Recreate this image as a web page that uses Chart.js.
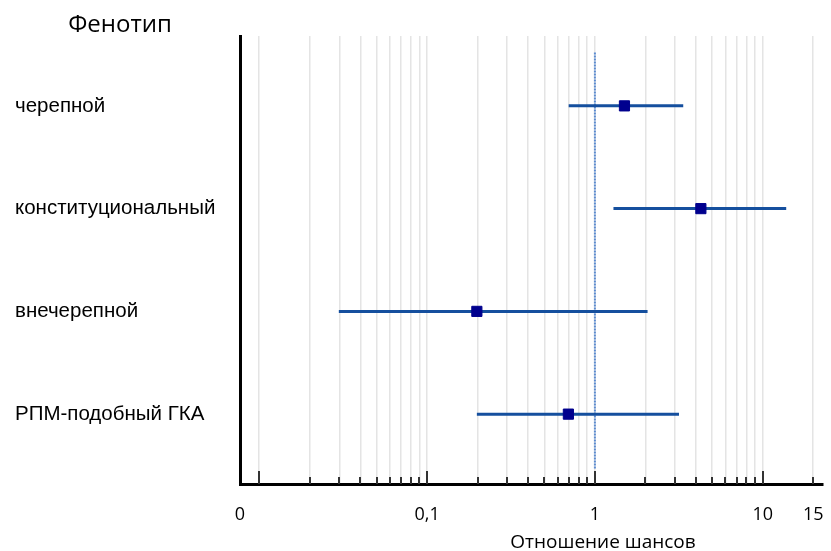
<!DOCTYPE html>
<html>
<head>
<meta charset="utf-8">
<script src="https://cdn.jsdelivr.net/npm/chart.js@4/dist/chart.umd.min.js"></script>
<style>
  body { margin: 0; background: #fff; }
  canvas { display: block; }
</style>
</head>
<body>
<canvas id="forest" width="831" height="551"></canvas>
<script>
// phenotypes, top to bottom
const phenotypes = ['черепной', 'конституциональный', 'внечерепной', 'РПМ-подобный ГКА'];
// odds ratio and 95% CI
const oddsRatio = [1.5, 4.28, 0.198, 0.695];
const ciLow = [0.698, 1.29, 0.0298, 0.198];
const ciHigh = [3.36, 13.8, 2.06, 3.17];

const refLine = 1;
const xMin = 0.00768;
const xMax = 22.8;
const tickValues = [0.01, 0.02, 0.03, 0.04, 0.05, 0.06, 0.07, 0.08, 0.09,
  0.1, 0.2, 0.3, 0.4, 0.5, 0.6, 0.7, 0.8, 0.9,
  1, 2, 3, 4, 5, 6, 7, 8, 9, 10, 20];
const majorTicks = [0.01, 0.1, 1, 10];
const labelValues = [xMin, 0.1, 1, 10, 20];
const labelTexts = ['0', '0,1', '1', '10', '15'];

const ciColor = '#154f9e';
const pointColor = '#00008e';

document.addEventListener('DOMContentLoaded', () => {
  const ctx = document.getElementById('forest').getContext('2d');

  // tick marks inside the plot plus the two free texts
  const extras = {
    id: 'extras',
    afterDraw(chart) {
      const c = chart.ctx;
      const x = chart.scales.x;
      const bottom = chart.chartArea.bottom;
      c.save();
      c.strokeStyle = '#333';
      c.lineWidth = 2;
      tickValues.forEach(v => {
        const px = Math.round(x.getPixelForValue(v));
        const len = majorTicks.includes(v) ? 13 : 7;
        c.beginPath();
        c.moveTo(px, bottom);
        c.lineTo(px, bottom - len);
        c.stroke();
      });
      c.fillStyle = '#000';
      c.textAlign = 'center';
      c.textBaseline = 'middle';
      c.font = '24px "Open Sans"';
      c.fillText('Фенотип', 120, 25);
      c.font = '19px "Open Sans"';
      c.fillText('Отношение шансов', 603, 543);
      c.restore();
    }
  };

  const datasets = [{
    data: oddsRatio.map((v, i) => ({ x: v, y: i + 1 })),
    pointStyle: 'rect',
    pointRadius: 7.2,
    backgroundColor: pointColor,
    borderColor: pointColor,
    borderWidth: 1,
    showLine: false
  }];

  phenotypes.forEach((p, i) => {
    datasets.push({
      data: [{ x: ciLow[i], y: i + 1 }, { x: ciHigh[i], y: i + 1 }],
      showLine: true,
      borderColor: ciColor,
      borderWidth: 3,
      pointRadius: 0
    });
  });

  datasets.push({
    data: [{ x: refLine, y: 0.48 }, { x: refLine, y: 4.54 }],
    showLine: true,
    borderColor: '#5b8bd0',
    borderWidth: 2,
    borderDash: [2, 1],
    pointRadius: 0
  });

  new Chart(ctx, {
    type: 'scatter',
    data: { datasets: datasets },
    options: {
      responsive: false,
      animation: false,
      devicePixelRatio: 1,
      layout: { padding: { left: 15, top: 36, right: 3, bottom: 0 } },
      plugins: {
        legend: { display: false },
        tooltip: { enabled: false }
      },
      scales: {
        x: {
          type: 'logarithmic',
          min: xMin,
          max: xMax,
          afterBuildTicks: scale => {
            scale.ticks = [xMin].concat(tickValues).map(v => ({ value: v }));
          },
          afterFit: scale => {
            scale.height = 67;
            scale.paddingLeft = 0;
            scale.paddingRight = 0;
          },
          grid: { color: '#e4e4e4', lineWidth: 1.5, drawTicks: false },
          border: { color: '#000', width: 3 },
          ticks: {
            autoSkip: false,
            maxRotation: 0,
            padding: 20,
            color: '#000',
            font: { family: 'Open Sans', size: 18 },
            callback: v => {
              const k = labelValues.findIndex(l => Math.abs(l - v) < 1e-9);
              return k >= 0 ? labelTexts[k] : '';
            }
          }
        },
        y: {
          type: 'linear',
          reverse: true,
          min: 0.32,
          max: 4.68,
          afterBuildTicks: scale => {
            scale.ticks = phenotypes.map((p, i) => ({ value: i + 1 }));
          },
          afterFit: scale => { scale.width = 225; },
          grid: { drawOnChartArea: false, drawTicks: false },
          border: { color: '#000', width: 3 },
          ticks: {
            crossAlign: 'far',
            color: '#000',
            font: { family: 'Liberation Sans', size: 20.5 },
            callback: v => phenotypes[v - 1] || ''
          }
        }
      }
    },
    plugins: [extras]
  });
});
</script>
</body>
</html>
